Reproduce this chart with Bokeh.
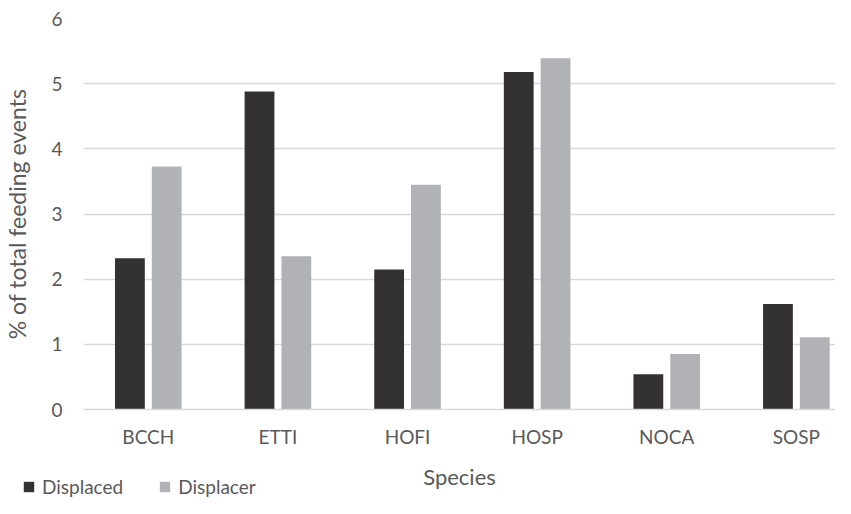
from bokeh.plotting import figure
from bokeh.layouts import column
from bokeh.models import Range1d, FixedTicker, Legend, LegendItem, ColumnDataSource
from bokeh.embed import file_html
from bokeh.resources import INLINE

species = ["BCCH", "ETTI", "HOFI", "HOSP", "NOCA", "SOSP"]
displaced = [2.32, 4.88, 2.15, 5.18, 0.54, 1.62]
displacer = [3.73, 2.35, 3.45, 5.39, 0.85, 1.11]
y_ticks = [0, 1, 2, 3, 4, 5, 6]
series_names = ["Displaced", "Displacer"]

FONT = "Lato"
TXT = "#595959"
GRID = "#d9d9d9"
DARK = "#333132"
LIGHT = "#b1b2b5"

pos = [i + 0.5 for i in range(len(species))]
src = ColumnDataSource(dict(
    pos=pos,
    x1=[p - 0.142 for p in pos],
    x2=[p + 0.142 for p in pos],
    displaced=displaced,
    displacer=displacer,
))

p = figure(width=835, height=498, output_backend="svg", toolbar_location=None,
           x_range=Range1d(0, 5.802), y_range=Range1d(0, 6),
           min_border_left=83, min_border_right=0, min_border_top=18,
           min_border_bottom=89)
p.outline_line_color = None

r1 = p.vbar(x="x1", top="displaced", width=0.23, source=src, fill_color=DARK, line_color=None)
r2 = p.vbar(x="x2", top="displacer", width=0.23, source=src, fill_color=LIGHT, line_color=None)

# axes
p.xaxis.ticker = FixedTicker(ticks=pos)
p.xaxis.major_label_overrides = {float(v): s for v, s in zip(pos, species)}
p.yaxis.ticker = FixedTicker(ticks=y_ticks)
for ax in (p.xaxis, p.yaxis):
    ax.major_tick_line_color = None
    ax.minor_tick_line_color = None
    ax.major_tick_out = 0
    ax.major_tick_in = 0
    ax.minor_tick_out = 0
    ax.major_label_text_font = FONT
    ax.major_label_text_font_size = "19px"
    ax.major_label_text_color = TXT
    ax.axis_label_text_font = FONT
    ax.axis_label_text_color = TXT
    ax.axis_label_text_font_style = "normal"
p.xaxis.axis_label_text_font_size = "22px"
p.yaxis.axis_label_text_font_size = "23px"
p.yaxis.axis_line_color = None
p.xaxis.axis_line_color = GRID
p.xaxis.axis_line_width = 1.5
p.xaxis.axis_label = "Species"
p.yaxis.axis_label = "% of total feeding events"
p.xaxis.major_label_standoff = 15
p.xaxis.axis_label_standoff = 12
p.yaxis.major_label_standoff = 21
p.yaxis.axis_label_standoff = 17

p.xgrid.grid_line_color = None
p.ygrid.ticker = FixedTicker(ticks=y_ticks)
p.ygrid.grid_line_color = GRID
p.ygrid.grid_line_width = 1.5

# legend strip, overlapping the blank bottom-left corner of the chart
# (same series drawn there, but outside its visible y range; only the legend shows)
p2 = figure(width=835, height=22, output_backend="svg", toolbar_location=None,
            x_axis_type=None, y_axis_type=None,
            x_range=Range1d(0, 5.802), y_range=Range1d(100, 101),
            min_border_left=0, min_border_right=0, min_border_top=0, min_border_bottom=0,
            margin=(-22, 0, 0, -84))
p2.outline_line_color = None
p2.background_fill_alpha = 0
p2.border_fill_alpha = 0
p2.grid.visible = False
l1 = p2.vbar(x="x1", top="displaced", width=0.23, source=src, fill_color=DARK, line_color=None)
l2 = p2.vbar(x="x2", top="displacer", width=0.23, source=src, fill_color=LIGHT, line_color=None)

legend = Legend(items=[LegendItem(label=series_names[0], renderers=[l1]),
                       LegendItem(label=series_names[1], renderers=[l2])],
                location=(23, 0), orientation="horizontal",
                glyph_width=13, glyph_height=13, label_standoff=7, spacing=35,
                padding=0, margin=0, border_line_color=None,
                background_fill_alpha=0, label_height=13,
                label_text_font=FONT, label_text_font_size="19px",
                label_text_color=TXT)
p2.add_layout(legend, "center")

layout = column(p, p2, spacing=0)
open("out.html", "w").write(file_html(layout, INLINE))
